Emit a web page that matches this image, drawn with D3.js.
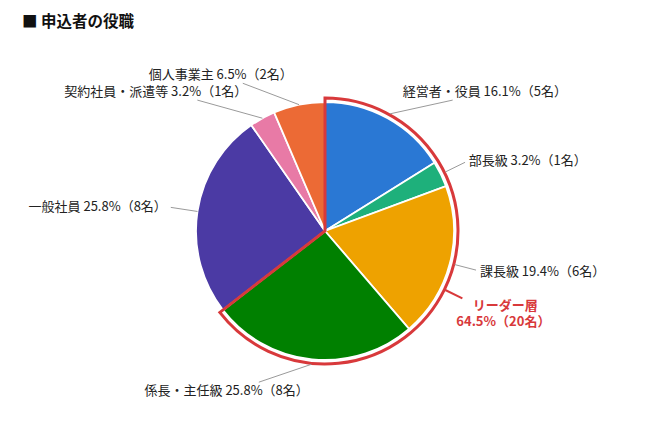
<!DOCTYPE html>
<html>
<head>
<meta charset="utf-8">
<script src="https://cdn.jsdelivr.net/npm/d3@7"></script>
<style>
  body { margin: 0; background: #fff; }
  svg { display: block; font-family: "Noto Sans CJK JP", "Noto Sans", sans-serif; }
</style>
</head>
<body>
<div id="chart"></div>
<script>
const categories = ['経営者・役員', '部長級', '課長級', '係長・主任級', '一般社員', '契約社員・派遣等', '個人事業主'];
const counts = [5, 1, 6, 8, 8, 1, 2];
const percents = [16.1, 3.2, 19.4, 25.8, 25.8, 3.2, 6.5];
const colors = ['#2a78d4', '#1eb07b', '#eea200', '#008000', '#4b3aa4', '#e87aa6', '#ec6a35'];

// slices grouped under the red outline
const leaderGroup = ['経営者・役員', '部長級', '課長級', '係長・主任級'];
const groupName = 'リーダー層';
const groupPercent = 64.5;
const groupCount = 20;

const title = '■ 申込者の役職';

const config = {
  width: 650,
  height: 434,
  cx: 325,
  cy: 231,
  radius: 129,
  labelRadius: 160,
  red: '#d8393b'
};

const data = categories.map((name, i) => ({ name, count: counts[i], pct: percents[i], color: colors[i] }));

const svg = d3.select('#chart')
  .append('svg')
  .attr('width', config.width)
  .attr('height', config.height);

svg.append('text')
  .attr('x', 22)
  .attr('y', 22)
  .attr('dy', '0.35em')
  .attr('font-size', 15.5)
  .attr('font-weight', 'bold')
  .attr('fill', '#111')
  .text(title);

const g = svg.append('g')
  .attr('transform', `translate(${config.cx},${config.cy})`);

const pie = d3.pie().sort(null).value(d => d.count);
const arcs = pie(data);
const arc = d3.arc().innerRadius(0).outerRadius(config.radius);

const polar = (a, r) => [Math.sin(a) * r, -Math.cos(a) * r];

g.selectAll('path.slice')
  .data(arcs)
  .enter()
  .append('path')
  .attr('class', 'slice')
  .attr('d', arc)
  .attr('fill', d => d.data.color)
  .attr('stroke', '#fff')
  .attr('stroke-width', 1.8);

// red outline around the leader group
const groupArcs = arcs.filter(d => leaderGroup.includes(d.data.name));
const gStart = d3.min(groupArcs, d => d.startAngle);
const gEnd = d3.max(groupArcs, d => d.endAngle);
const R = config.radius + 4;
const outline = d3.path();
outline.moveTo(0, 0);
outline.lineTo(...polar(gStart, R));
outline.arc(0, 0, R, gStart - Math.PI / 2, gEnd - Math.PI / 2);
outline.closePath();
g.append('path')
  .attr('d', outline.toString())
  .attr('fill', 'none')
  .attr('stroke', config.red)
  .attr('stroke-width', 3);

// slice labels with leader lines
arcs.forEach(d => {
  const mid = (d.startAngle + d.endAngle) / 2;
  const inGroup = leaderGroup.includes(d.data.name);
  const start = polar(mid, inGroup ? config.radius + 5 : config.radius);
  const anchor = polar(mid, config.labelRadius);
  const side = Math.sin(mid) >= 0 ? 1 : -1;
  const c = Math.cos(mid);
  let end;
  if (Math.abs(c) > 0.8) {
    end = [anchor[0] + side * 50, anchor[1] + (c > 0 ? 9 : -8)];
  } else {
    end = polar(mid, config.labelRadius - 4);
  }
  g.append('line')
    .attr('x1', start[0]).attr('y1', start[1])
    .attr('x2', end[0]).attr('y2', end[1])
    .attr('stroke', '#9a9a9a')
    .attr('stroke-width', 1);
  g.append('text')
    .attr('x', anchor[0])
    .attr('y', anchor[1])
    .attr('dy', '0.35em')
    .attr('text-anchor', side > 0 ? 'start' : 'end')
    .attr('font-size', 13)
    .attr('fill', '#222')
    .text(`${d.data.name} ${d.data.pct}%（${d.data.count}名）`);
});

// group label
const gMid = (gStart + gEnd) / 2;
const gs = polar(gMid, config.radius + 5);
const ge = polar(gMid, config.radius + 24);
g.append('line')
  .attr('x1', gs[0]).attr('y1', gs[1])
  .attr('x2', ge[0]).attr('y2', ge[1])
  .attr('stroke', config.red)
  .attr('stroke-width', 2);
const gl = g.append('text')
  .attr('text-anchor', 'middle')
  .attr('font-size', 13)
  .attr('font-weight', 'bold')
  .attr('fill', config.red);
gl.append('tspan')
  .attr('x', ge[0] + 43)
  .attr('y', ge[1] + 7)
  .attr('dy', '0.35em')
  .text(groupName);
gl.append('tspan')
  .attr('x', ge[0] + 41)
  .attr('y', ge[1] + 23)
  .attr('dy', '0.35em')
  .text(`${groupPercent}%（${groupCount}名）`);
</script>
</body>
</html>
